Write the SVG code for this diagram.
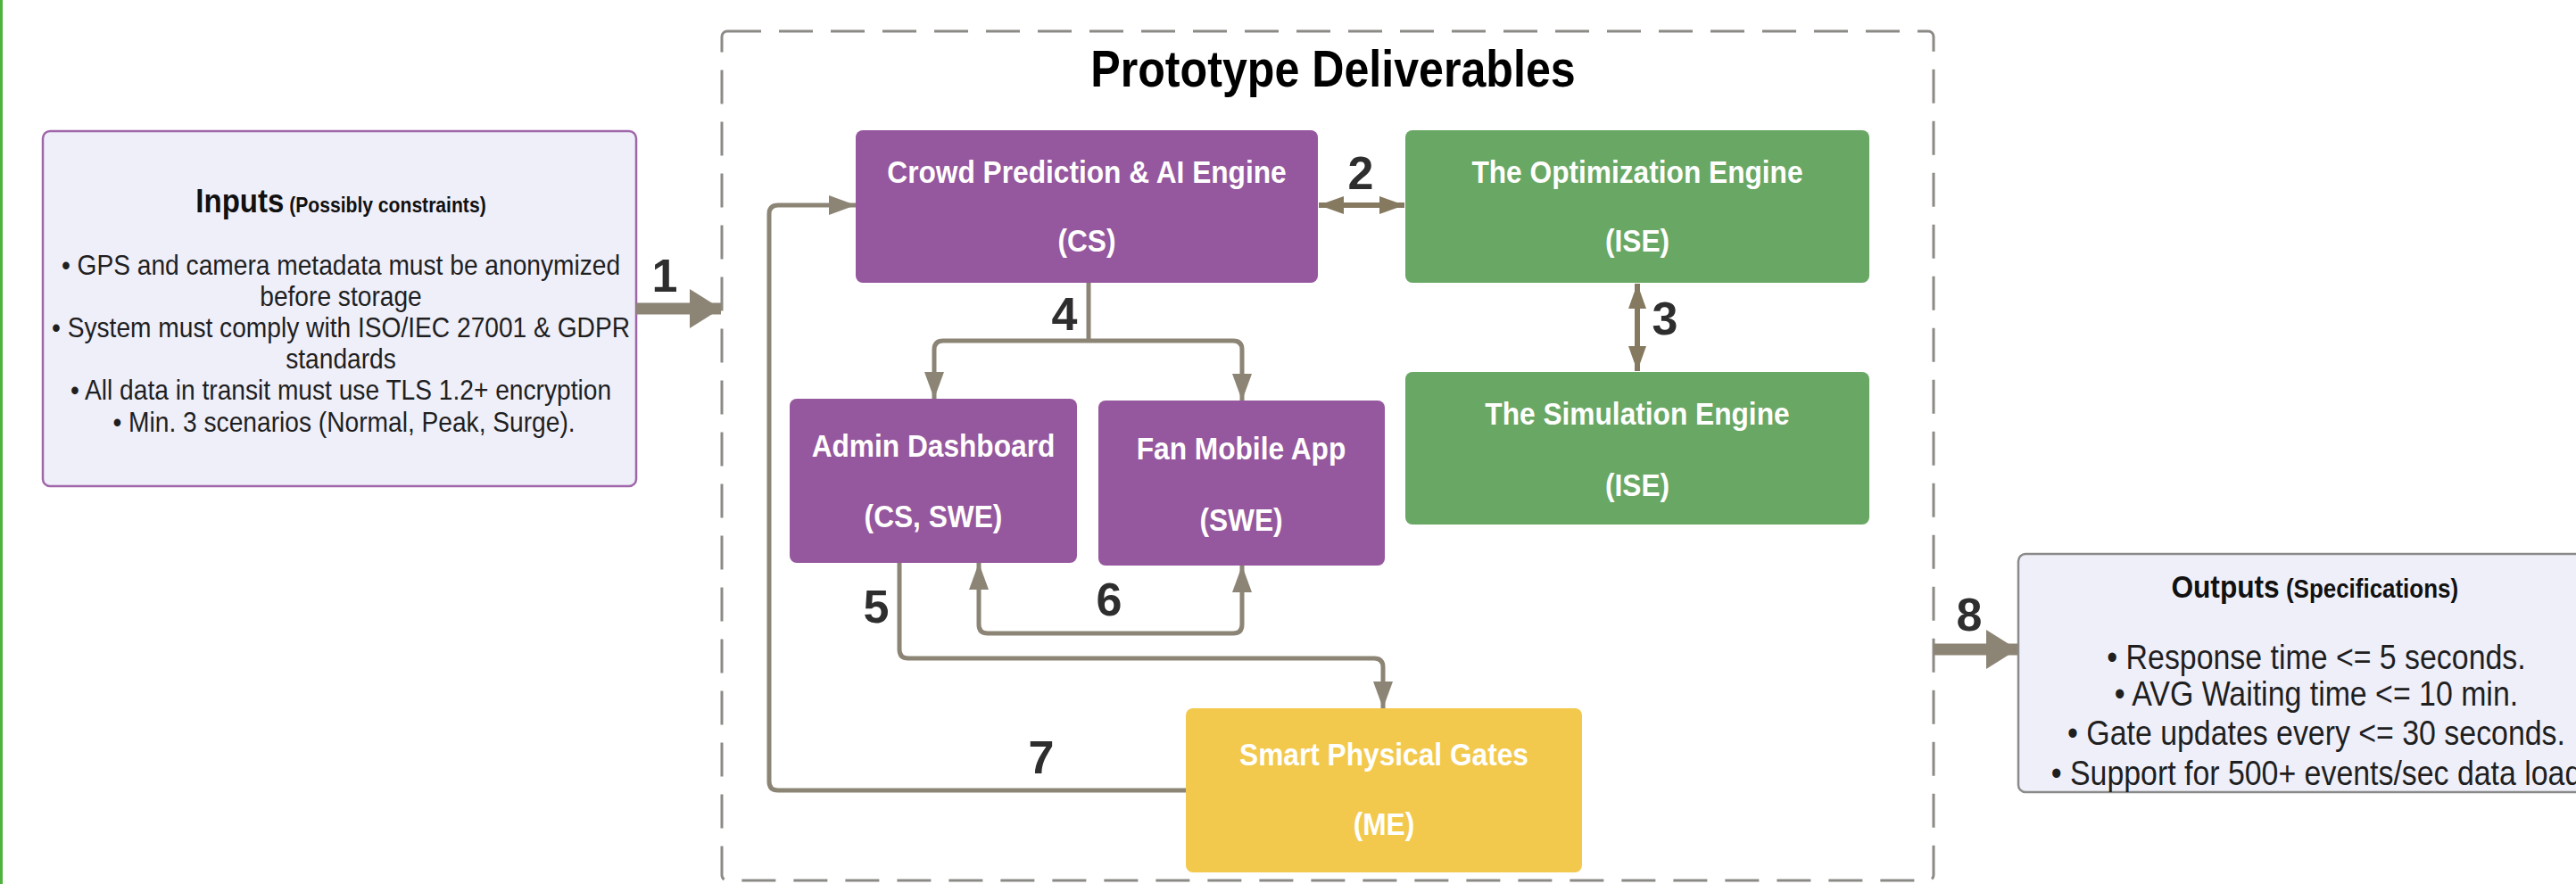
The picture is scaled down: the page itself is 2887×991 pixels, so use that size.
<svg xmlns="http://www.w3.org/2000/svg" width="2887" height="991" viewBox="0 0 2887 991">
<style>
.t{font-family:"Liberation Sans",Arial,sans-serif;}
.body{font-family:"Liberation Sans",Arial,sans-serif;font-size:32px;fill:#1f1f1f;text-anchor:middle;}
.obody{font-family:"Liberation Sans",Arial,sans-serif;font-size:38.5px;fill:#1f1f1f;text-anchor:middle;}
.node{font-family:"Liberation Sans",Arial,sans-serif;font-size:36px;font-weight:bold;fill:#ffffff;text-anchor:middle;}
.num{font-family:"Liberation Sans",Arial,sans-serif;font-size:52px;font-weight:bold;fill:#2e2e2e;text-anchor:middle;}
.conn{fill:none;stroke:#8c8576;stroke-width:5;stroke-linejoin:round;}
.purple{fill:#95579d;}
.green{fill:#69a764;}
.yellow{fill:#f2c94c;}
</style>
<defs>
<marker id="ah" markerUnits="userSpaceOnUse" markerWidth="32" markerHeight="24" refX="30" refY="12" orient="auto-start-reverse">
<path d="M0,1 L30,12 L0,23 Z" fill="#8c8576"/>
</marker>
<marker id="ahb" markerUnits="userSpaceOnUse" markerWidth="30" markerHeight="24" refX="28" refY="12" orient="auto-start-reverse">
<path d="M0,2 L28,12 L0,22 Z" fill="#85795f"/>
</marker>
<marker id="ahbig" markerUnits="userSpaceOnUse" markerWidth="36" markerHeight="46" refX="35" refY="23" orient="auto">
<path d="M0,1 L35,23 L0,45 Z" fill="#8c8576"/>
</marker>
</defs>
<rect x="0" y="0" width="2887" height="991" fill="#ffffff"/>
<rect x="0" y="0" width="3" height="991" fill="#4db33d"/>

<g id="container">
<rect x="809" y="35" width="1358" height="952" rx="6" fill="none" stroke="#8c8a85" stroke-width="3" stroke-dasharray="38 20"/>
<text class="t" x="1494" y="97" font-size="57" font-weight="bold" fill="#000" text-anchor="middle" transform="matrix(0.88 0 0 1 179.28 0)">Prototype Deliverables</text>
</g>

<g id="inputs">
<rect x="48" y="147" width="665" height="398" rx="8" fill="#efeffa" stroke="#a066aa" stroke-width="2.5"/>
<g transform="matrix(0.88 0 0 1 45.84 0)">
<text class="t" x="382" y="238" text-anchor="middle" font-weight="bold" fill="#111"><tspan font-size="37.5">Inputs</tspan><tspan font-size="24"> (Possibly constraints)</tspan></text>
<text class="body" x="382" y="308">• GPS and camera metadata must be anonymized</text>
<text class="body" x="382" y="343">before storage</text>
<text class="body" x="382" y="378">• System must comply with ISO/IEC 27001 &amp; GDPR</text>
<text class="body" x="382" y="413">standards</text>
<text class="body" x="382" y="448">• All data in transit must use TLS 1.2+ encryption</text>
<text class="body" x="386" y="484">•  Min. 3 scenarios (Normal, Peak, Surge).</text>
</g>
</g>

<g id="outputs">
<rect x="2262" y="621" width="700" height="267" rx="8" fill="#efeffa" stroke="#8a8a8a" stroke-width="2.5"/>
<g transform="matrix(0.88 0 0 1 311.52 0)">
<text class="t" x="2594" y="670" text-anchor="middle" font-weight="bold" fill="#111"><tspan font-size="36">Outputs</tspan><tspan font-size="29.5"> (Specifications)</tspan></text>
<text class="obody" x="2596" y="750">• Response time &lt;= 5 seconds.</text>
<text class="obody" x="2596" y="791">• AVG Waiting time &lt;= 10 min.</text>
<text class="obody" x="2596" y="835">•  Gate updates every &lt;= 30 seconds.</text>
<text class="obody" x="2596" y="880">• Support for 500+ events/sec data load</text>
</g>
</g>

<g id="crowd">
<rect class="purple" x="959" y="146" width="518" height="171" rx="8"/>
<g transform="matrix(0.88 0 0 1 146.16 0)">
<text class="node" x="1218" y="205">Crowd Prediction &amp; AI Engine</text>
<text class="node" x="1218" y="282">(CS)</text>
</g>
</g>

<g id="optimization">
<rect class="green" x="1575" y="146" width="520" height="171" rx="8"/>
<g transform="matrix(0.88 0 0 1 220.2 0)">
<text class="node" x="1835" y="205">The Optimization Engine</text>
<text class="node" x="1835" y="282">(ISE)</text>
</g>
</g>

<g id="simulation">
<rect class="green" x="1575" y="417" width="520" height="171" rx="8"/>
<g transform="matrix(0.88 0 0 1 220.2 0)">
<text class="node" x="1835" y="476">The Simulation Engine</text>
<text class="node" x="1835" y="556">(ISE)</text>
</g>
</g>

<g id="admin">
<rect class="purple" x="885" y="447" width="322" height="184" rx="8"/>
<g transform="matrix(0.88 0 0 1 125.52 0)">
<text class="node" x="1046" y="512">Admin Dashboard</text>
<text class="node" x="1046" y="591">(CS, SWE)</text>
</g>
</g>

<g id="fan">
<rect class="purple" x="1231" y="449" width="321" height="185" rx="8"/>
<g transform="matrix(0.88 0 0 1 166.92 0)">
<text class="node" x="1391" y="515">Fan Mobile App</text>
<text class="node" x="1391" y="595">(SWE)</text>
</g>
</g>

<g id="gates">
<rect class="yellow" x="1329" y="794" width="444" height="184" rx="8"/>
<g transform="matrix(0.88 0 0 1 186.12 0)">
<text class="node" x="1551" y="858" fill="#fffbea">Smart Physical Gates</text>
<text class="node" x="1551" y="936" fill="#fffbea">(ME)</text>
</g>
</g>

<g id="connectors">
<path d="M713,346 H808" stroke="#8c8576" stroke-width="13" fill="none" marker-end="url(#ahbig)"/>
<path d="M2167,728 H2261" stroke="#8c8576" stroke-width="13" fill="none" marker-end="url(#ahbig)"/>
<path d="M1478,230 H1574" fill="none" stroke="#85795f" stroke-width="6" marker-start="url(#ahb)" marker-end="url(#ahb)"/>
<path d="M1835,318 V416" fill="none" stroke="#85795f" stroke-width="6" marker-start="url(#ahb)" marker-end="url(#ahb)"/>
<path class="conn" d="M1220,317 V382"/>
<path class="conn" d="M1220,382 H1057 Q1047,382 1047,392 V447" marker-end="url(#ah)"/>
<path class="conn" d="M1220,382 H1382 Q1392,382 1392,392 V449" marker-end="url(#ah)"/>
<path class="conn" d="M1097,631 V700 Q1097,710 1107,710 H1382 Q1392,710 1392,700 V634" marker-start="url(#ah)" marker-end="url(#ah)"/>
<path class="conn" d="M1008,631 V728 Q1008,738 1018,738 H1540 Q1550,738 1550,748 V794" marker-end="url(#ah)"/>
<path class="conn" d="M1329,886 H872 Q862,886 862,876 V240 Q862,230 872,230 H959" marker-end="url(#ah)"/>
<text class="num" x="745" y="327">1</text>
<text class="num" x="1525" y="212">2</text>
<text class="num" x="1866" y="375" font-size="46">3</text>
<text class="num" x="1193" y="370">4</text>
<text class="num" x="982" y="698">5</text>
<text class="num" x="1243" y="690">6</text>
<text class="num" x="1167" y="867">7</text>
<text class="num" x="2207" y="707">8</text>
</g>
</svg>
